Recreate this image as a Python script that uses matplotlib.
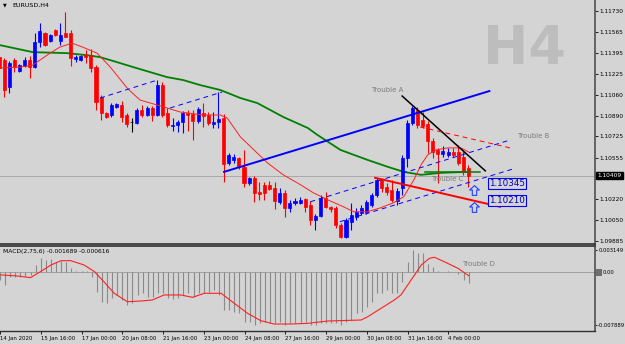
import matplotlib
matplotlib.use("Agg")
import matplotlib.pyplot as plt
from matplotlib.patches import Rectangle
from matplotlib.path import Path
import numpy as np

# EURUSD H4 candles (bar index 0 = 14 Jan 2020 08:00)
opens = [1.11360, 1.11336, 1.11120, 1.11336, 1.11248, 1.11288, 1.11336, 1.11280, 1.11480, 1.11552,
         1.11488, 1.11576, 1.11488, 1.11552, 1.11552, 1.11344, 1.11336, 1.11376, 1.11376, 1.11280,
         1.11040, 1.10912, 1.10896, 1.10960, 1.10976, 1.10896, 1.10836, 1.10832, 1.10936, 1.10896,
         1.10952, 1.10896, 1.11136, 1.10912, 1.10808, 1.10816, 1.10840, 1.10912, 1.10904, 1.10848,
         1.10912, 1.10896, 1.10824, 1.10840, 1.10872, 1.10512, 1.10536, 1.10552, 1.10480, 1.10352,
         1.10392, 1.10280, 1.10336, 1.10336, 1.10312, 1.10200, 1.10272, 1.10152, 1.10192, 1.10192,
         1.10224, 1.10176, 1.10056, 1.10088, 1.10232, 1.10160, 1.10152, 1.10016, 1.09920, 1.10040,
         1.10080, 1.10112, 1.10120, 1.10176, 1.10256, 1.10376, 1.10320, 1.10296, 1.10208, 1.10312,
         1.10552, 1.10832, 1.10936, 1.10856, 1.10824, 1.10688, 1.10616, 1.10584, 1.10576, 1.10600,
         1.10600, 1.10560, 1.10472]
highs = [1.11376, 1.11352, 1.11328, 1.11352, 1.11304, 1.11360, 1.11368, 1.11552, 1.11632, 1.11560,
         1.11544, 1.11584, 1.11632, 1.11720, 1.11576, 1.11376, 1.11376, 1.11416, 1.11424, 1.11296,
         1.11056, 1.10920, 1.10992, 1.10992, 1.11008, 1.10912, 1.10872, 1.10952, 1.10976, 1.10968,
         1.10968, 1.11176, 1.11160, 1.10952, 1.10872, 1.10856, 1.10928, 1.10936, 1.10936, 1.10960,
         1.10992, 1.10920, 1.10920, 1.11080, 1.10904, 1.10592, 1.10584, 1.10560, 1.10616, 1.10400,
         1.10408, 1.10360, 1.10360, 1.10368, 1.10360, 1.10312, 1.10296, 1.10216, 1.10232, 1.10240,
         1.10232, 1.10208, 1.10104, 1.10256, 1.10280, 1.10168, 1.10168, 1.10032, 1.10072, 1.10192,
         1.10152, 1.10176, 1.10216, 1.10272, 1.10392, 1.10392, 1.10352, 1.10376, 1.10312, 1.10576,
         1.10856, 1.10968, 1.10960, 1.10920, 1.10848, 1.10712, 1.10632, 1.10648, 1.10632, 1.10632,
         1.10656, 1.10616, 1.10496]
lows = [1.11256, 1.11040, 1.11072, 1.11240, 1.11240, 1.11280, 1.11192, 1.11272, 1.11440, 1.11448,
        1.11480, 1.11528, 1.11456, 1.11520, 1.11288, 1.11320, 1.11328, 1.11312, 1.11240, 1.10936,
        1.10856, 1.10872, 1.10880, 1.10952, 1.10840, 1.10800, 1.10760, 1.10824, 1.10880, 1.10888,
        1.10848, 1.10888, 1.10880, 1.10800, 1.10768, 1.10760, 1.10752, 1.10768, 1.10696, 1.10832,
        1.10800, 1.10816, 1.10792, 1.10792, 1.10360, 1.10496, 1.10512, 1.10464, 1.10320, 1.10336,
        1.10200, 1.10216, 1.10216, 1.10296, 1.10144, 1.10184, 1.10080, 1.10120, 1.10176, 1.10184,
        1.10120, 1.10016, 1.09976, 1.10080, 1.10152, 1.10120, 1.09992, 1.09912, 1.09912, 1.09976,
        1.10056, 1.10096, 1.10104, 1.10160, 1.10240, 1.10280, 1.10256, 1.10200, 1.10176, 1.10256,
        1.10480, 1.10816, 1.10792, 1.10792, 1.10592, 1.10552, 1.10352, 1.10560, 1.10560, 1.10560,
        1.10496, 1.10416, 1.10320]
closes = [1.11272, 1.11096, 1.11312, 1.11280, 1.11296, 1.11336, 1.11280, 1.11480, 1.11568, 1.11456,
          1.11536, 1.11536, 1.11536, 1.11520, 1.11352, 1.11360, 1.11368, 1.11360, 1.11272, 1.11000,
          1.10912, 1.10880, 1.10976, 1.10984, 1.10880, 1.10824, 1.10836, 1.10936, 1.10896, 1.10952,
          1.10896, 1.11136, 1.10896, 1.10816, 1.10816, 1.10840, 1.10912, 1.10896, 1.10848, 1.10944,
          1.10888, 1.10832, 1.10840, 1.10864, 1.10504, 1.10576, 1.10560, 1.10480, 1.10352, 1.10392,
          1.10272, 1.10264, 1.10272, 1.10304, 1.10208, 1.10272, 1.10152, 1.10192, 1.10208, 1.10216,
          1.10160, 1.10056, 1.10088, 1.10232, 1.10160, 1.10144, 1.10016, 1.09920, 1.10056, 1.10096,
          1.10120, 1.10152, 1.10200, 1.10256, 1.10376, 1.10312, 1.10280, 1.10216, 1.10288, 1.10552,
          1.10832, 1.10952, 1.10816, 1.10808, 1.10688, 1.10600, 1.10584, 1.10608, 1.10600, 1.10576,
          1.10512, 1.10440, 1.10409]

# moving averages (bar index, price)
ma_fast_idx = [0.2, 4.1, 6.6, 8.0, 10.0, 11.9, 14.3, 16.4, 19.2, 21.8, 25.1, 27.6, 31.0, 35.5, 40.0,
               43.4, 44.7, 47.3, 52.6, 55.7, 59.1, 61.6, 64.4, 67.5, 69.5, 72.2, 74.8, 77.3, 79.3,
               81.3, 82.7, 84.0, 85.6, 87.9, 90.5, 92.0]
ma_fast = [1.11272, 1.11280, 1.11296, 1.11336, 1.11392, 1.11440, 1.11472, 1.11440, 1.11392, 1.11280,
           1.11112, 1.11016, 1.10976, 1.10920, 1.10896, 1.10896, 1.10872, 1.10720, 1.10512, 1.10416,
           1.10336, 1.10272, 1.10216, 1.10160, 1.10120, 1.10120, 1.10152, 1.10192, 1.10240, 1.10376,
           1.10496, 1.10576, 1.10616, 1.10632, 1.10632, 1.10600]
ma_slow_idx = [0.2, 6.6, 13.3, 17.2, 19.8, 23.1, 26.3, 29.6, 32.9, 36.1, 39.4, 43.4, 47.3, 50.6, 55.7,
               60.5, 62.4, 66.9, 72.2, 76.2, 79.3, 82.7, 86.6, 92.0]
ma_slow = [1.11456, 1.11400, 1.11392, 1.11376, 1.11360, 1.11320, 1.11280, 1.11240, 1.11200, 1.11176,
           1.11136, 1.11096, 1.11032, 1.10992, 1.10880, 1.10792, 1.10736, 1.10616, 1.10536, 1.10480,
           1.10440, 1.10416, 1.10432, 1.10440]

# MACD(2,75,6) histogram and signal
macd_hist = [-0.0012, -0.00198, -0.00076, -0.00086, -0.00076, -0.00066, -0.00051, 0.00096, 0.00194, 0.00169,
             0.00179, 0.00144, 0.00159, 0.00144, 0.00047, 0.00012, 0.0001, 0.0001, -0.00076, -0.00297,
             -0.00444, -0.00468, -0.00394, -0.00345, -0.00419, -0.00492, -0.00468, -0.00345, -0.00321, -0.0037,
             -0.0037, -0.00321, -0.00321, -0.00394, -0.00409, -0.00394, -0.00345, -0.00321, -0.0037, -0.00321,
             -0.00321, -0.00297, -0.00272, -0.00345, -0.00566, -0.00566, -0.00591, -0.00615, -0.00738, -0.00738,
             -0.0078, -0.00762, -0.00738, -0.00762, -0.00762, -0.00738, -0.0078, -0.00762, -0.00762, -0.00762,
             -0.00738, -0.0078, -0.0078, -0.00762, -0.00762, -0.00762, -0.00762, -0.007889, -0.00738, -0.00713,
             -0.00615, -0.00591, -0.00517, -0.00444, -0.00321, -0.00321, -0.00272, -0.00321, -0.00321, -0.0015,
             0.00144, 0.003149, 0.00276, 0.00267, 0.0011, 0.0006, 0.0001, 0.0, 0.0001, -0.0001,
             -0.0003, -0.0013, -0.001689]
signal_idx = [0.2, 3.4, 6.0, 8.0, 10.0, 12.0, 13.9, 16.5, 18.5, 20.4, 22.4, 25.0, 27.6, 29.9, 32.2, 35.5,
              37.8, 40.1, 43.4, 46.0, 48.6, 51.2, 53.8, 57.1, 60.4, 64.3, 70.9, 72.2, 74.8, 77.4, 78.7,
              80.7, 82.7, 84.3, 85.3, 87.2, 89.9, 92.0]
signal = [-0.0005, -0.00066, -0.0009, 0.0, 0.00096, 0.00159, 0.00159, 0.00096, 0.0, -0.0015, -0.0032,
          -0.00444, -0.00434, -0.00419, -0.00345, -0.00345, -0.0038, -0.0032, -0.0032, -0.00468, -0.00615,
          -0.00723, -0.00772, -0.00772, -0.00762, -0.00728, -0.00713, -0.00664, -0.00541, -0.00419,
          -0.00345, -0.00125, 0.00096, 0.00194, 0.00209, 0.00144, 0.00047, -0.000616]

time_ticks = [0, 8, 16, 24, 32, 40, 48, 56, 64, 72, 80, 88]
time_labels = ["14 Jan 2020", "15 Jan 16:00", "17 Jan 00:00", "20 Jan 08:00", "21 Jan 16:00",
               "23 Jan 00:00", "24 Jan 08:00", "27 Jan 16:00", "29 Jan 00:00", "30 Jan 08:00",
               "31 Jan 16:00", "4 Feb 00:00"]
price_ticks = [1.11730, 1.11565, 1.11395, 1.11225, 1.11060, 1.10890, 1.10725, 1.10555,
               1.10220, 1.10050, 1.09885]
bid = 1.10409

# drawn objects: ((bar, price), (bar, price))
blue_dashed = [((19.8, 1.11032), (31.0, 1.11176)),
               ((33.5, 1.10952), (43.7, 1.11080)),
               ((61.0, 1.10200), (100.2, 1.10696)),
               ((66.8, 1.10040), (100.8, 1.10464))]
blue_line = ((44.1, 1.10440), (96.1, 1.11088))
trouble_a = ((79.0, 1.11048), (95.3, 1.10448))
trouble_b = ((82.5, 1.10800), (100.2, 1.10632))
trouble_c = ((83.5, 1.10440), (94.3, 1.10440))
red_line = ((73.7, 1.10392), (98.2, 1.10160))
level_labels = [1.10345, 1.10210]
arrow_bar = 93.1
arrow_prices = [1.10293, 1.10158]

BG = "#d4d4d4"
W, H = 625, 344
fig = plt.figure(figsize=(W / 100, H / 100), dpi=100)
fig.patch.set_facecolor(BG)
plt.rcParams["font.family"] = "DejaVu Sans"


def px_axes(x0, y0, x1, y1):
    return fig.add_axes([x0 / W, 1 - y1 / H, (x1 - x0) / W, (y1 - y0) / H])


ax = px_axes(0, 0, 595, 244)
ax2 = px_axes(0, 246, 595, 331)
xlim = (0.18, 116.8)

# ---- main chart
ax.set_facecolor(BG)
ax.set_xlim(*xlim)
ax.set_ylim(1.098613, 1.118182)
ax.text(0.882, 0.80, "H4", transform=ax.transAxes, fontsize=39, fontweight="bold",
        color="#bdbdbd", ha="center", va="center", zorder=0)
ax.axhline(bid, color="#a8a8a8", lw=0.7, zorder=1)

idx = np.arange(len(opens))
o, h, l, c = map(np.array, (opens, highs, lows, closes))
cols = np.where(c > o, "#0000ff", np.where(c < o, "#ff0000", "#000000"))
ax.vlines(idx, l, h, colors=cols, lw=0.8, zorder=3)
ax.bar(idx, c - o, bottom=o, width=0.6, color=cols, edgecolor=cols, lw=0.5, zorder=4)

ax.plot(ma_slow_idx, ma_slow, color="#008000", lw=1.3, zorder=2)
ax.plot(ma_fast_idx, ma_fast, color="#ff2020", lw=0.7, zorder=5)

for (x0, y0), (x1, y1) in blue_dashed:
    ax.plot([x0, x1], [y0, y1], color="#0000ff", lw=0.7, ls=(0, (5, 4)), zorder=6)
ax.plot(*zip(*blue_line), color="#0000ff", lw=1.4, zorder=6)
ax.plot(*zip(*trouble_a), color="#000000", lw=1.1, zorder=6)
ax.plot(*zip(*trouble_b), color="#ff0000", lw=0.7, ls=(0, (5, 4)), zorder=6)
ax.plot(*zip(*trouble_c), color="#008000", lw=1.1, zorder=6)
ax.plot(*zip(*red_line), color="#ff0000", lw=1.4, zorder=6)

grey = "#7c7c7c"
ax.text(76.0, 1.11096, "Trouble A", fontsize=5, color=grey, ha="center", va="center", zorder=7)
ax.text(101.6, 1.10728, "Trouble B", fontsize=5, color=grey, ha="left", va="center", zorder=7)
ax.text(84.7, 1.10386, "Trouble C", fontsize=5, color=grey, ha="left", va="center", zorder=7)
for lv in level_labels:
    ax.text(96.1, lv, f"{lv:.5f}", fontsize=6.3, color="#0000c0", ha="left", va="center", zorder=8,
            bbox=dict(boxstyle="square,pad=0.12", fc=BG, ec="#0000ff", lw=0.8))

# hollow "up" arrow marks
arrow = Path([(0, 1), (1, 0.1), (0.45, 0.1), (0.45, -1), (-0.45, -1), (-0.45, 0.1), (-1, 0.1), (0, 1)],
             [Path.MOVETO] + [Path.LINETO] * 6 + [Path.CLOSEPOLY])
ax.plot([arrow_bar] * len(arrow_prices), arrow_prices, ls="none", marker=arrow, markersize=7,
        markerfacecolor="none", markeredgecolor="#2040ff", markeredgewidth=0.8, zorder=8)

ax.text(0.005, 0.978, "\u25bc", transform=ax.transAxes, fontsize=3.5, ha="left", va="center")
ax.text(0.020, 0.978, "EURUSD,H4", transform=ax.transAxes, fontsize=4.6, ha="left", va="center")

ax.yaxis.tick_right()
ax.set_yticks(price_ticks)
ax.set_yticklabels([f"{p:.5f}" for p in price_ticks])
ax.tick_params(axis="y", labelsize=4.2, length=2, pad=1.5, width=0.6)
ax.set_xticks([])
for s in ("left", "top"):
    ax.spines[s].set_visible(False)
ax.spines["right"].set_color("#505050")
ax.spines["right"].set_linewidth(1.2)
ax.spines["bottom"].set_color("#303030")
ax.spines["bottom"].set_linewidth(1.2)
ax.text(1.004, bid, f"{bid:.5f}", transform=ax.get_yaxis_transform(), fontsize=4.2, color="white",
        ha="left", va="center", bbox=dict(boxstyle="square,pad=0.2", fc="black", ec="black"))

# ---- MACD window
ax2.set_facecolor(BG)
ax2.set_xlim(*xlim)
ax2.set_ylim(-0.008747, 0.003749)
ax2.axhline(0, color="#a0a0a0", lw=0.7, zorder=1)
ax2.vlines(idx, 0, macd_hist, colors="#8a8a8a", lw=0.8, zorder=2)
ax2.plot(signal_idx, signal, color="#ff2020", lw=0.8, zorder=3)
ax2.text(90.8, 0.0011, "Trouble D", fontsize=5, color=grey, ha="left", va="center", zorder=4)
ax2.text(0.005, 0.93, "MACD(2,75,6) -0.001689 -0.000616", transform=ax2.transAxes,
         fontsize=4.3, ha="left", va="center")

ax2.yaxis.tick_right()
ax2.set_yticks([0.003149, 0.0, -0.007889])
ax2.set_yticklabels(["0.003149", "0.00", "-0.007889"])
ax2.tick_params(axis="y", labelsize=3.8, length=1.5, pad=0.8, width=0.6)
yl = ax2.get_yticklabels()
yl[1].set_x(1.012)
yl[1].set_transform(ax2.get_yaxis_transform())
ax2.set_xticks(time_ticks)
ax2.set_xticklabels(time_labels)
ax2.tick_params(axis="x", labelsize=3.9, length=2.5, pad=1, width=0.6)
for lbl in ax2.get_xticklabels():
    lbl.set_ha("left")
ax2.spines["left"].set_visible(False)
ax2.spines["right"].set_color("#505050")
ax2.spines["right"].set_linewidth(1.2)
ax2.spines["top"].set_color("#303030")
ax2.spines["top"].set_linewidth(1.2)
ax2.spines["bottom"].set_color("#303030")
ax2.spines["bottom"].set_linewidth(1.0)

# small value marker box in front of the MACD "0.00" label
fig.add_artist(Rectangle((596 / W, 1 - 275.5 / H), 6 / W, 7 / H, transform=fig.transFigure,
                         fc="#6e6e6e", ec="none"))

fig.savefig("out.png", dpi=100, facecolor=BG)
